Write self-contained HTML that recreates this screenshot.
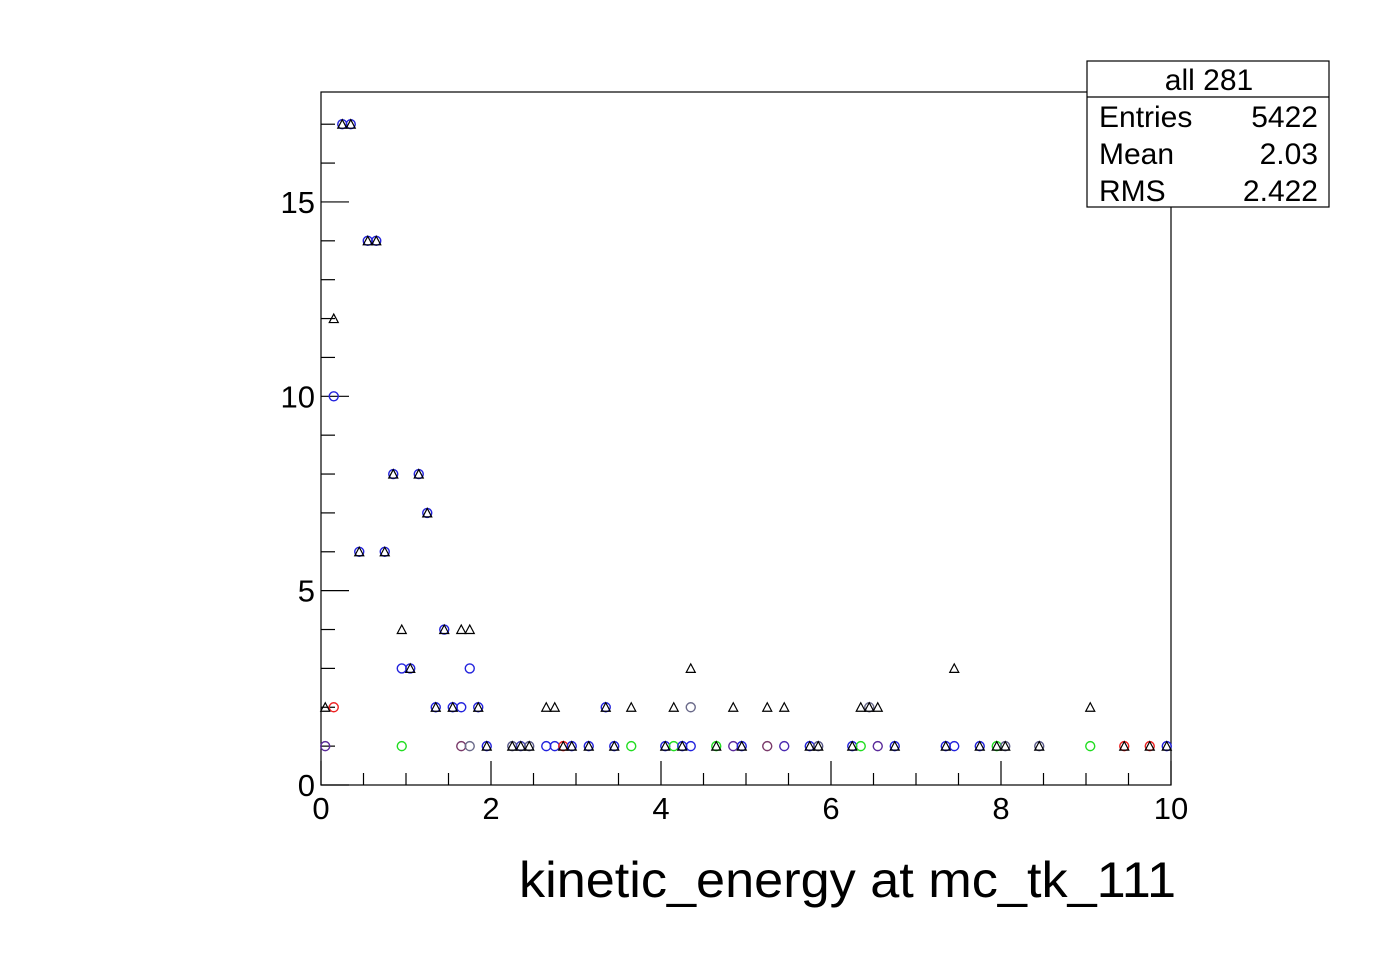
<!DOCTYPE html>
<html><head><meta charset="utf-8"><style>
html,body{margin:0;padding:0;background:#fff;}
svg{display:block;font-family:"Liberation Sans",sans-serif;}
</style></head><body>
<svg id="chart" width="1396" height="972" viewBox="0 0 1396 972" xmlns="http://www.w3.org/2000/svg">
<rect width="1396" height="972" fill="#fff"/>
<g id="axes"></g>
<g id="marks"></g>
<g>
<rect x="1087" y="61" width="242" height="146" fill="#fff" stroke="#000" stroke-width="1.2"/>
<line x1="1087" y1="97" x2="1329" y2="97" stroke="#000" stroke-width="1.2"/>
<text x="1209" y="90" font-size="30" text-anchor="middle">all 281</text>
<text x="1099" y="127" font-size="30">Entries</text>
<text x="1318" y="127" font-size="30" text-anchor="end">5422</text>
<text x="1099" y="164" font-size="30">Mean</text>
<text x="1318" y="164" font-size="30" text-anchor="end">2.03</text>
<text x="1099" y="201" font-size="30">RMS</text>
<text x="1318" y="201" font-size="30" text-anchor="end">2.422</text>
</g>
<text x="519" y="897" font-size="50" textLength="657" lengthAdjust="spacingAndGlyphs">kinetic_energy at mc_tk_111</text>
</svg>
<script>
const triX=[0.05,0.15,0.25,0.35,0.45,0.55,0.65,0.75,0.85,0.95,1.05,1.15,1.25,1.35,1.45,1.55,1.65,1.75,1.85,1.95,2.25,2.35,2.45,2.65,2.75,2.85,2.95,3.15,3.35,3.45,3.65,4.05,4.15,4.25,4.35,4.65,4.85,4.95,5.25,5.45,5.75,5.85,6.25,6.35,6.45,6.55,6.75,7.35,7.45,7.75,7.95,8.05,8.45,9.05,9.45,9.75,9.95];
const triY=[2,12,17,17,6,14,14,6,8,4,3,8,7,2,4,2,4,4,2,1,1,1,1,2,2,1,1,1,2,1,2,1,2,1,3,1,2,1,2,2,1,1,1,2,2,2,1,1,3,1,1,1,1,2,1,1,1];
const circX=[0.05,0.15,0.15,0.25,0.35,0.45,0.55,0.65,0.75,0.85,0.95,0.95,1.05,1.15,1.25,1.35,1.45,1.55,1.65,1.65,1.75,1.75,1.85,1.95,2.25,2.35,2.45,2.65,2.75,2.85,2.95,3.15,3.35,3.45,3.65,4.05,4.15,4.25,4.35,4.35,4.65,4.85,4.95,5.25,5.45,5.75,5.85,6.25,6.35,6.45,6.55,6.75,7.35,7.45,7.75,7.95,8.05,8.45,9.05,9.45,9.75,9.95];
const circY=[1,10,2,17,17,6,14,14,6,8,3,1,3,8,7,2,4,2,2,1,3,1,2,1,1,1,1,1,1,1,1,1,2,1,1,1,1,1,1,2,1,1,1,1,1,1,1,1,1,2,1,1,1,1,1,1,1,1,1,1,1,1];
const circC=["#5a2a9a","#2222dd","#ee2222","#2222dd","#2222dd","#2222dd","#2222dd","#2222dd","#2222dd","#2222dd","#2222dd","#22dd22","#2222dd","#2222dd","#2222dd","#2222dd","#2222dd","#2222dd","#2222dd","#7a3a6a","#2222dd","#6a6a8a","#2222dd","#2222dd","#5a5a8a","#4040b0","#5a5a8a","#2222dd","#2222dd","#ee2222","#2222dd","#2222dd","#2222dd","#2222dd","#22dd22","#2222dd","#22dd22","#2222dd","#2222dd","#6a6a8a","#22dd22","#5a2a9a","#2222dd","#7a3a6a","#4a2ab0","#2222dd","#5a5a8a","#2222dd","#22dd22","#6a6a8a","#5a2a9a","#2222dd","#2222dd","#2222dd","#2222dd","#22dd22","#5a5a8a","#5a5a8a","#22dd22","#ee2222","#ee2222","#2222dd"];
const xTicks=[0,2,4,6,8,10];
const yTicks=[0,5,10,15];
const NS="http://www.w3.org/2000/svg";
const X0=321,X1=1171,Y0=785,Y1=92,XMAX=10,PXU=38.87,YMAX=(785-92)/PXU;
const sx=v=>X0+(X1-X0)*v/XMAX, sy=v=>Y0-(Y0-Y1)*v/YMAX;
function mk(tag,attrs,parent){const e=document.createElementNS(NS,tag);for(const k in attrs)e.setAttribute(k,attrs[k]);parent.appendChild(e);return e;}
const ax=document.getElementById('axes'), mg=document.getElementById('marks');
const fr=mk('rect',{x:X0,y:Y1,width:X1-X0,height:Y0-Y1,fill:'none',stroke:'#000','stroke-width':1.2},ax);


for(let v=0;v<=10.001;v+=0.5){const maj=Math.abs(v-Math.round(v/2)*2)<1e-6;
 const t=mk('line',{x1:sx(v),x2:sx(v),y1:Y0,y2:Y0-(maj?24:12),stroke:'#000','stroke-width':1.2},ax);
 
 }
for(let v=0;v<=17;v++){const maj=v%5==0;
 const t=mk('line',{x1:X0,x2:X0+(maj?28:14),y1:sy(v),y2:sy(v),stroke:'#000','stroke-width':1.2},ax);
 
 }
xTicks.forEach(v=>{const t=mk('text',{x:sx(v),y:819,'font-size':31,'text-anchor':'middle'},ax);t.textContent=String(v);
 
 });
yTicks.forEach(v=>{const t=mk('text',{x:315,y:sy(v)+11,'font-size':31,'text-anchor':'end'},ax);t.textContent=String(v);
 
 });
circX.forEach((v,i)=>{const c=mk('circle',{cx:sx(v),cy:sy(circY[i]),r:4.5,fill:'none',stroke:circC[i],'stroke-width':1.4},mg);
 
 });
triX.forEach((v,i)=>{const x=sx(v),y=sy(triY[i]);
 const p=mk('polygon',{points:`${x-4.5},${y+4} ${x+4.5},${y+4} ${x},${y-4.5}`,fill:'none',stroke:'#000','stroke-width':1.2},mg);
 
 });
</script>
</body></html>
